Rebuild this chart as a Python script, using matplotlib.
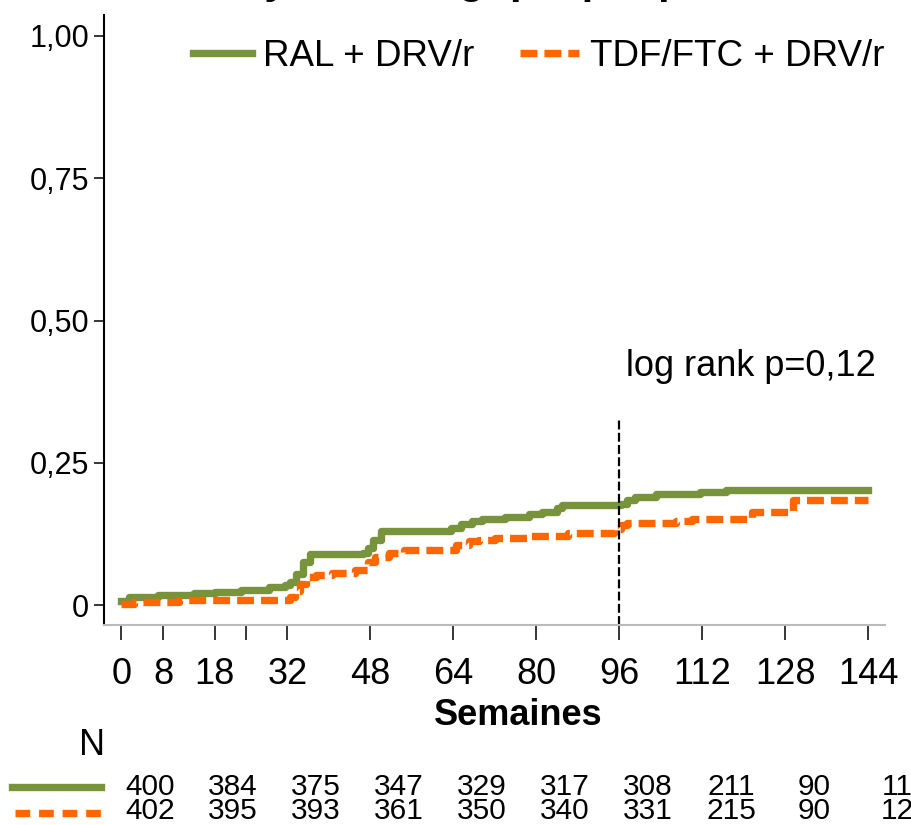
import matplotlib
matplotlib.use("Agg")
import matplotlib.pyplot as plt
import matplotlib.transforms as mtransforms
from matplotlib.lines import Line2D

plt.rcParams['font.family'] = ['Liberation Sans', 'DejaVu Sans']

# step curves (weeks, cumulative probability)
ral_weeks = [0, 1.5, 7, 14, 18, 23, 28.5, 31.5, 32.5, 33.7, 35, 36.3, 46.5, 47.5, 48.5, 50,
             63.5, 65.5, 67.5, 69.5, 74, 78.5, 81, 84, 85, 96.3, 97.5, 99, 103, 111.5, 116.5, 144]
ral_prob = [0.007, 0.014, 0.018, 0.021, 0.023, 0.027, 0.031, 0.035, 0.040, 0.055, 0.075, 0.089,
            0.092, 0.100, 0.115, 0.130, 0.135, 0.142, 0.147, 0.152, 0.155, 0.160, 0.163, 0.170,
            0.176, 0.178, 0.185, 0.190, 0.195, 0.198, 0.203, 0.203]

tdf_weeks = [0, 2.5, 11, 32.5, 33.5, 34.5, 35.5, 37.5, 40.5, 45, 47.5, 48.8, 51.5, 54.5,
             64.5, 67, 69, 72, 79, 86, 95, 96.3, 97.5, 107, 110, 121.5, 129.5, 144]
tdf_prob = [0.002, 0.005, 0.009, 0.015, 0.025, 0.037, 0.049, 0.053, 0.056, 0.062, 0.075, 0.085,
            0.092, 0.097, 0.106, 0.112, 0.114, 0.118, 0.121, 0.126, 0.134, 0.140, 0.145, 0.148,
            0.151, 0.164, 0.184, 0.184]

xticks = [0, 8, 18, 24, 32, 48, 64, 80, 96, 112, 128, 144]
xtick_labels = ['0', '8', '18', '', '32', '48', '64', '80', '96', '112', '128', '144']
yticks = [0, 0.25, 0.5, 0.75, 1.0]
ytick_labels = ['0', '0,25', '0,50', '0,75', '1,00']

risk_weeks = [0, 16, 32, 48, 64, 80, 96, 112, 128, 144]
risk_ral = [400, 384, 375, 347, 329, 317, 308, 211, 90, 11]
risk_tdf = [402, 395, 393, 361, 350, 340, 331, 215, 90, 12]

green = '#77933C'
orange = '#FF6600'

fig = plt.figure(figsize=(9.12, 8.25), dpi=100)
ax = fig.add_axes([0.1144, 0.2424, 0.856, 0.7396])

ax.step(ral_weeks, ral_prob, where='post', color=green, lw=5.3, label='RAL + DRV/r')
ax.step(tdf_weeks, tdf_prob, where='post', color=orange, lw=5.3, dashes=(2.3, 0.95),
        dash_capstyle='butt', label='TDF/FTC + DRV/r')
ax.plot([96, 96], [-0.035, 0.326], color='black', lw=1.6, dashes=(4, 1.5))

ax.set_xlim(-3.3, 147.2)
ax.set_ylim(-0.035, 1.037)
ax.set_xticks(xticks)
ax.set_xticklabels(xtick_labels, fontsize=26)
ax.set_yticks(yticks)
ax.set_yticklabels(ytick_labels, fontsize=22)
ax.tick_params(axis='x', direction='out', length=11, width=1.1, pad=12)
ax.tick_params(axis='y', direction='out', length=7, width=1.1, pad=4)

for s in ['top', 'right']:
    ax.spines[s].set_visible(False)
ax.spines['left'].set_linewidth(1.5)
ax.spines['bottom'].set_color('#bbbbbb')
ax.spines['bottom'].set_linewidth(1.5)

ax.set_xlabel('Semaines', fontsize=26, fontweight='bold')
ax.xaxis.set_label_coords(0.53, -0.12)

ax.text(121.4, 0.42, 'log rank p=0,12', fontsize=26, ha='center', va='center')

ax.legend(loc='center left', bbox_to_anchor=(0.2116, 0.932), bbox_transform=fig.transFigure,
          ncol=2, frameon=False, fontsize=26.5, handlelength=1.6, handletextpad=0.3,
          columnspacing=1.25, borderpad=0, borderaxespad=0)

# cropped title, only its descenders show
fig.text(0.56, 1.009, "Analyse virologique per protocole", fontsize=30,
         fontweight='bold', ha='center', va='baseline')

# number at risk
fig.text(0.101, 0.096, 'N', fontsize=26, ha='center', va='center')
trans = mtransforms.blended_transform_factory(ax.transData, fig.transFigure)
for w, a, b in zip(risk_weeks, risk_ral, risk_tdf):
    ax.text(w + 5.5, 0.046, str(a), fontsize=21.5, ha='center', va='center', transform=trans,
            clip_on=False)
    ax.text(w + 5.5, 0.0165, str(b), fontsize=21.5, ha='center', va='center', transform=trans,
            clip_on=False)
fig.add_artist(Line2D([0.013, 0.111], [0.046, 0.046], color=green, lw=5.3,
                      transform=fig.transFigure))
fig.add_artist(Line2D([0.016, 0.115], [0.0145, 0.0145], color=orange, lw=5.3, dashes=(2.0, 1.2),
                      dash_capstyle='butt', transform=fig.transFigure))

fig.savefig('out.png', dpi=100)
